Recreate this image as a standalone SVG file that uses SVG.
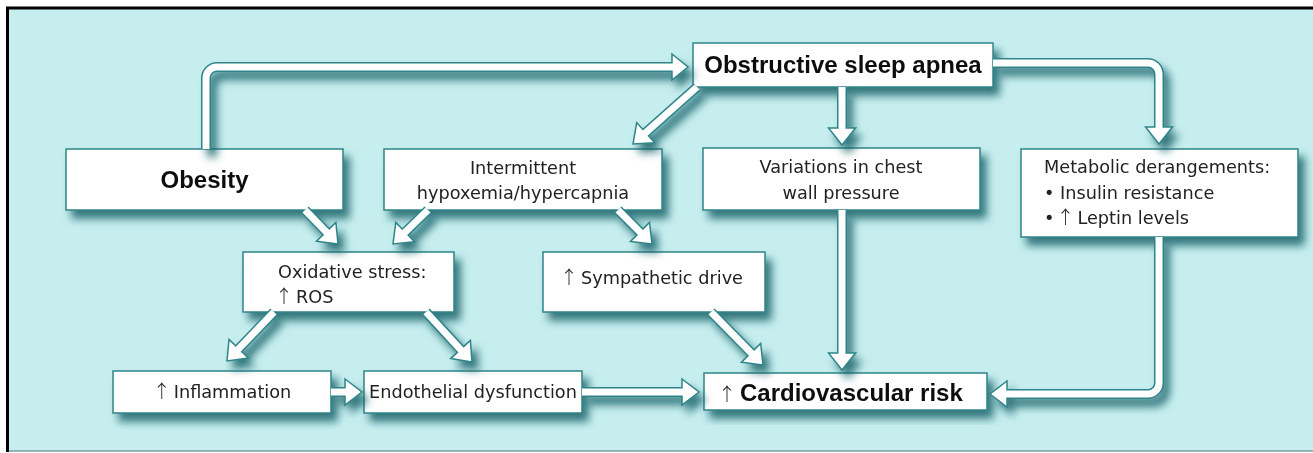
<svg xmlns="http://www.w3.org/2000/svg" width="1313" height="453" viewBox="0 0 1313 453">
<defs>
<filter id="sh" x="-10%" y="-10%" width="130%" height="150%">
<feDropShadow dx="6" dy="8" stdDeviation="4.5" flood-color="#17646a" flood-opacity="0.85"/>
</filter>
<style>
.box{fill:#fff;stroke:#2f8589;stroke-width:1.5}
.t{font-family:"DejaVu Sans",sans-serif;font-size:17.7px;fill:#222}
.ar{font-family:"Noto Sans CJK JP","DejaVu Sans",sans-serif;font-weight:300;font-size:18px}
.b{font-family:"Liberation Sans",Arial,sans-serif;font-weight:bold;font-size:24px;fill:#111}
.so{fill:none;stroke:#2f8589;stroke-width:10}
.si{fill:none;stroke:#fff;stroke-width:7}
.hd{fill:#fff;stroke:#2f8589;stroke-width:1.5;stroke-linejoin:miter}
</style>
</defs>
<rect x="0" y="0" width="1313" height="453" fill="#fff"/>
<rect x="7" y="8" width="1310" height="443" fill="#c7eeef"/>
<line x1="7.5" y1="451" x2="1313" y2="451" stroke="#7d9c9d" stroke-width="1.5"/>
<line x1="6" y1="8" x2="1313" y2="8" stroke="#000" stroke-width="3"/>
<line x1="7.5" y1="7" x2="7.5" y2="452" stroke="#000" stroke-width="3"/>

<g id="nodes">
<g id="obesity" filter="url(#sh)">
<rect class="box" x="66" y="149" width="277" height="61"/>
<text class="b" x="204.5" y="188" text-anchor="middle">Obesity</text>
</g>
<g id="osa" filter="url(#sh)">
<rect class="box" x="693" y="43" width="300" height="44"/>
<text class="b" x="843" y="73" text-anchor="middle">Obstructive sleep apnea</text>
</g>
<g id="intermittent" filter="url(#sh)">
<rect class="box" x="384" y="149" width="278" height="61"/>
<text class="t" x="523" y="174" text-anchor="middle">Intermittent</text>
<text class="t" x="523" y="199" text-anchor="middle">hypoxemia/hypercapnia</text>
</g>
<g id="variations" filter="url(#sh)">
<rect class="box" x="703" y="148" width="277" height="62"/>
<text class="t" x="841" y="173" text-anchor="middle">Variations in chest</text>
<text class="t" x="841" y="199" text-anchor="middle">wall pressure</text>
</g>
<g id="metabolic" filter="url(#sh)">
<rect class="box" x="1021" y="149" width="277" height="88"/>
<text class="t" x="1044" y="173">Metabolic derangements:</text>
<text class="t" x="1044" y="199">• Insulin resistance</text>
<text class="t" x="1044" y="224">•<tspan class="ar" dx="2">↑</tspan><tspan dx="3">Leptin levels</tspan></text>
</g>
<g id="oxidative" filter="url(#sh)">
<rect class="box" x="243" y="252" width="211" height="60"/>
<text class="t" x="278" y="278">Oxidative stress:</text>
<text class="t" x="275" y="303"><tspan class="ar">↑</tspan><tspan dx="3">ROS</tspan></text>
</g>
<g id="sympathetic" filter="url(#sh)">
<rect class="box" x="543" y="252" width="222" height="60"/>
<text class="t" x="560" y="284"><tspan class="ar">↑</tspan><tspan dx="3">Sympathetic drive</tspan></text>
</g>
<g id="inflammation" filter="url(#sh)">
<rect class="box" x="113" y="371" width="218" height="42"/>
<text class="t" x="222" y="398" text-anchor="middle"><tspan class="ar">↑</tspan><tspan dx="3">Inflammation</tspan></text>
</g>
<g id="endothelial" filter="url(#sh)">
<rect class="box" x="364" y="371" width="218" height="42"/>
<text class="t" x="473" y="398" text-anchor="middle">Endothelial dysfunction</text>
</g>
<g id="cardio" filter="url(#sh)">
<rect class="box" x="704" y="373" width="283" height="37"/>
<text y="401"><tspan class="t ar" x="718">↑</tspan><tspan class="b" x="740">Cardiovascular risk</tspan></text>
</g>
</g>

<g id="connectors" filter="url(#sh)">
<path class="so" d="M206,149 V78 A11,11 0 0 1 217,67 H673"/>
<polygon class="hd" points="672,54 688,67 672,80"/>
<path class="si" d="M206,149 V78 A11,11 0 0 1 217,67 H675"/>
<path class="so" d="M993,63 H1148 A11,11 0 0 1 1159,74 V128"/>
<polygon class="hd" points="1145.5,127 1172.5,127 1159,144"/>
<path class="si" d="M993,63 H1148 A11,11 0 0 1 1159,74 V130"/>
<path class="so" d="M1159,237 V383 A11,11 0 0 1 1148,394 H1006"/>
<polygon class="hd" points="1007,381 1007,407 990,394"/>
<path class="si" d="M1159,237 V383 A11,11 0 0 1 1148,394 H1004"/>
<path class="so" d="M842,87 V129"/>
<polygon class="hd" points="828.5,128 855.5,128 842,145"/>
<path class="si" d="M842,87 V131"/>
<path class="so" d="M842,210 V354"/>
<polygon class="hd" points="828.5,353 855.5,353 842,370"/>
<path class="si" d="M842,210 V356"/>
<path class="so" d="M331,392 H346"/>
<polygon class="hd" points="345,379 362,392 345,405"/>
<path class="si" d="M331,392 H348"/>
<path class="so" d="M582,392 H683"/>
<polygon class="hd" points="682,379 699,392 682,405"/>
<path class="si" d="M582,392 H685"/>
<path class="so" d="M697,87 L645,133.3"/>
<polygon class="hd" points="654.7,142.8 633,144 636.7,122.6"/>
<path class="si" d="M697,87 L643.5,134.7"/>
<path class="so" d="M305,210 L326.9,232.5"/>
<polygon class="hd" points="316.5,241.2 338,244 335.9,222.4"/>
<path class="si" d="M305,210 L328.3,234"/>
<path class="so" d="M428,210 L404.5,232.9"/>
<polygon class="hd" points="414.6,241.8 393,244 395.8,222.5"/>
<path class="si" d="M428,210 L403,234.3"/>
<path class="so" d="M618,210 L640.7,232.7"/>
<polygon class="hd" points="630.5,241.5 652,244 649.5,222.5"/>
<path class="si" d="M618,210 L642.1,234.1"/>
<path class="so" d="M274,312 L238.1,349.4"/>
<polygon class="hd" points="248.5,358.1 227,361 229,339.4"/>
<path class="si" d="M274,312 L236.7,350.9"/>
<path class="so" d="M426,312 L461.2,350.2"/>
<polygon class="hd" points="450.6,358.6 472,362 470.4,340.4"/>
<path class="si" d="M426,312 L462.5,351.7"/>
<path class="so" d="M711,312 L751.8,353.6"/>
<polygon class="hd" points="741.5,362.3 763,365 760.7,343.4"/>
<path class="si" d="M711,312 L753.2,355"/>
</g>
</svg>
